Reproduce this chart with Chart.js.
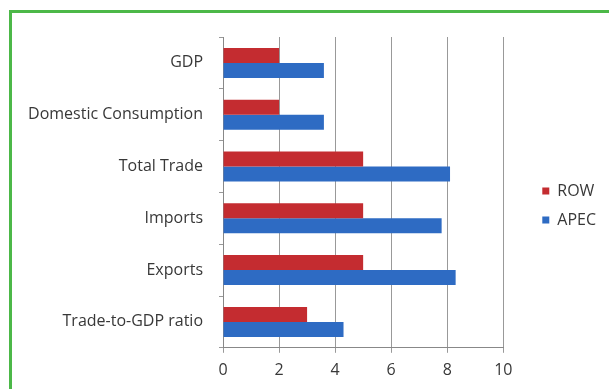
<!DOCTYPE html>
<html>
<head>
<meta charset="utf-8">
<script src="https://cdn.jsdelivr.net/npm/chart.js@4"></script>
<style>
  html, body { margin: 0; padding: 0; background: #fff; overflow: hidden; }
  #frame { position: absolute; left: 9px; top: 10px; width: 640px; height: 420px; border: 3px solid #4cb848; }
  #wrap { position: absolute; left: 0; top: 0; width: 609px; height: 389px; }
</style>
</head>
<body>
<div id="frame"></div>
<div id="wrap"><canvas id="barChart"></canvas></div>
<script>
const categories = ['GDP', 'Domestic Consumption', 'Total Trade', 'Imports', 'Exports', 'Trade-to-GDP ratio'];
const rowValues = [2, 2, 5, 5, 5, 3];
const apecValues = [3.6, 3.6, 8.1, 7.8, 8.3, 4.3];
const xTicks = [0, 2, 4, 6, 8, 10];

const textColor = '#383838';
const fontFamily = '"Open Sans", sans-serif';

// push the legend away from the plot and lift it a bit, like the original
const legendGap = 26;
const legendLift = 7;
const legendShift = {
    id: 'legendShift',
    beforeInit(chart) {
        const fit = chart.legend.fit;
        chart.legend.fit = function () {
            fit.call(this);
            this.width += legendGap;
        };
    },
    afterLayout(chart) {
        chart.legend.left += legendGap;
        chart.legend.top -= legendLift;
        chart.legend.bottom -= legendLift;
    }
};

const ctx = document.getElementById('barChart');

new Chart(ctx, {
    type: 'bar',
    data: {
        labels: categories,
        datasets: [
            {
                label: 'ROW',
                data: rowValues,
                backgroundColor: '#c42c30',
                categoryPercentage: 0.58,
                barPercentage: 1
            },
            {
                label: 'APEC',
                data: apecValues,
                backgroundColor: '#2e6bc3',
                categoryPercentage: 0.58,
                barPercentage: 1
            }
        ]
    },
    options: {
        indexAxis: 'y',
        responsive: true,
        maintainAspectRatio: false,
        animation: false,
        layout: {
            padding: { top: 37, bottom: 1, left: 0, right: 3 }
        },
        scales: {
            x: {
                min: 0,
                max: 10,
                afterBuildTicks: (scale) => {
                    scale.ticks = xTicks.map(v => ({ value: v }));
                },
                grid: { color: '#999', tickLength: 5 },
                border: { color: '#888' },
                ticks: {
                    color: textColor,
                    padding: 8,
                    font: { family: fontFamily, size: 16 }
                }
            },
            y: {
                afterFit: (scale) => { scale.width = 223; },
                grid: { drawOnChartArea: false, tickLength: 4, color: '#999' },
                border: { color: '#888' },
                ticks: {
                    color: textColor,
                    padding: 16,
                    font: { family: fontFamily, size: 16 }
                }
            }
        },
        plugins: {
            legend: {
                position: 'right',
                labels: {
                    boxWidth: 7,
                    boxHeight: 7,
                    padding: 13,
                    color: textColor,
                    font: { family: fontFamily, size: 16 }
                }
            },
            tooltip: { enabled: false }
        }
    },
    plugins: [legendShift]
});
</script>
</body>
</html>
